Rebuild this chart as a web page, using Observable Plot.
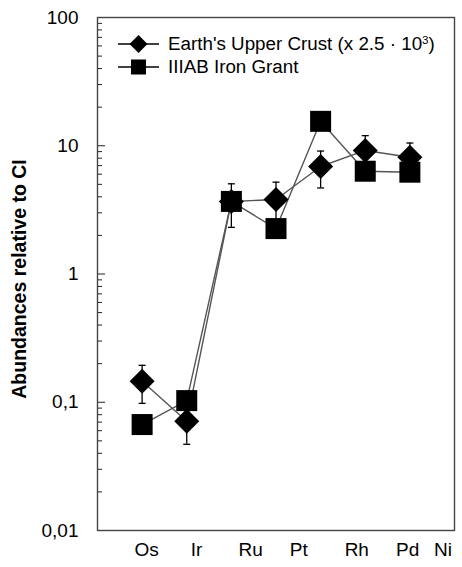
<!DOCTYPE html>
<html><head><meta charset="utf-8">
<script src="https://cdn.jsdelivr.net/npm/d3@7"></script>
<script src="https://cdn.jsdelivr.net/npm/@observablehq/plot@0.6"></script>
<style>
body{margin:0;background:#fff;font-family:"Liberation Sans",Arial,sans-serif;}
#wrap{position:relative;width:462px;height:567px;}
.lg{position:absolute;left:118px;height:24px;display:flex;align-items:center;font-size:18.8px;color:#000;white-space:nowrap;}
.lg svg{margin-right:9px;}
.lg sup{font-size:0.62em;line-height:0;vertical-align:0.55em;}
</style></head><body><div id="wrap"></div>
<script>
// categories (element labels) and where their labels sit on the x axis
const elements = ["Os","Ir","Ru","Pt","Rh","Pd","Ni"];
const labelAt = [0.1, 1.22, 2.43, 3.51, 4.81, 5.95, 6.74];
// point index of each measured point
const pointIndex = [0, 1, 2, 3, 4, 5, 6];
// Earth's Upper Crust (x 2.5·10^3) values and ± error
const crust = [0.146, 0.071, 3.68, 3.81, 6.89, 9.19, 8.14];
const crustErr = [0.048, 0.024, 1.37, 1.39, 2.2, 2.8, 2.36];
// IIIAB Iron Grant values
const iron = [0.067, 0.103, 3.68, 2.26, 15.5, 6.33, 6.22];
// y ticks
const yTicks = [0.01, 0.1, 1, 10, 100];
const yTickLabels = ["0,01", "0,1", "1", "10", "100"];
const seriesNames = ["Earth's Upper Crust (x 2.5 · 10|3|)", "IIIAB Iron Grant"];
const yTitle = "Abundances relative to CI";

const W = 462, H = 567, mL = 97, mR = 8, mT = 17, mB = 37;
const fw = W - mL - mR;
const crustRows = pointIndex.map((i, k) => ({i, v: crust[k], lo: crust[k] - crustErr[k], hi: crust[k] + crustErr[k]}));
const ironRows = pointIndex.map((i, k) => ({i, v: iron[k]}));
const minor = d3.scaleLog().domain([0.01, 100]).ticks().filter(t => !yTicks.some(v => Math.abs(v - t) / t < 1e-9));
const capSymbol = {draw(ctx, size) { const w = Math.sqrt(size); ctx.moveTo(-w / 2, 0); ctx.lineTo(w / 2, 0); }};

const chart = Plot.plot({
  width: W, height: H, marginLeft: mL, marginRight: mR, marginTop: mT, marginBottom: mB,
  style: {fontFamily: '"Liberation Sans", Arial, sans-serif', fontSize: "19px", color: "#000", background: "#fff", overflow: "visible"},
  x: {type: "linear", domain: [-1, 7]},
  y: {type: "log", domain: [0.01, 100]},
  marks: [
    Plot.ruleY(minor, {insetRight: fw - 5, stroke: "#222", strokeWidth: 1}),
    Plot.ruleY(yTicks, {insetRight: fw - 8, stroke: "#222", strokeWidth: 1}),
    Plot.frame({stroke: "#444", strokeWidth: 1.4}),
    Plot.axisY(yTicks, {tickSize: 0, tickPadding: 19, tickFormat: d => yTickLabels[yTicks.indexOf(d)], label: null}),
    Plot.text([yTitle], {frameAnchor: "left", rotate: -90, text: d => d, dx: -78, dy: 5,
      fontSize: 19.5, fontWeight: "bold", textAnchor: "middle", lineAnchor: "middle"}),
    Plot.axisX(labelAt, {tickSize: 0, tickPadding: 12, tickFormat: d => elements[labelAt.indexOf(d)], label: null}),
    Plot.line(crustRows, {x: "i", y: "v", stroke: "#555", strokeWidth: 1.4}),
    Plot.line(ironRows, {x: "i", y: "v", stroke: "#555", strokeWidth: 1.4}),
    Plot.ruleX(crustRows, {x: "i", y1: "lo", y2: "hi", stroke: "#000", strokeWidth: 1.3}),
    Plot.dot(crustRows, {x: "i", y: "lo", symbol: capSymbol, r: 3.95, fill: "none", stroke: "#000", strokeWidth: 1.3}),
    Plot.dot(crustRows, {x: "i", y: "hi", symbol: capSymbol, r: 3.95, fill: "none", stroke: "#000", strokeWidth: 1.3}),
    Plot.dot(crustRows, {x: "i", y: "v", symbol: "diamond2", r: 11.26, fill: "#000", stroke: "none"}),
    Plot.dot(ironRows, {x: "i", y: "v", symbol: "square", r: 11.85, fill: "#000", stroke: "none"})
  ]
});
const wrap = document.getElementById("wrap");
wrap.appendChild(chart);

// legend
const glyphs = [
  '<path d="M20.5,2 L29.5,11 L20.5,20 L11.5,11Z" fill="#000"/>',
  '<rect x="13" y="3.5" width="15" height="15" fill="#000"/>'
];
const rowTop = [31.5, 55];
seriesNames.forEach((name, k) => {
  const row = document.createElement("div");
  row.className = "lg";
  row.style.top = rowTop[k] + "px";
  row.innerHTML = '<svg width="41" height="22"><line x1="0" x2="41" y1="11" y2="11" stroke="#000" stroke-width="1.3"/>' + glyphs[k] + '</svg>';
  const span = document.createElement("span");
  const parts = name.split("|");
  span.append(parts[0]);
  if (parts.length > 1) { const s = document.createElement("sup"); s.textContent = parts[1]; span.append(s, parts[2]); }
  row.appendChild(span);
  wrap.appendChild(row);
});
</script>
</body></html>
